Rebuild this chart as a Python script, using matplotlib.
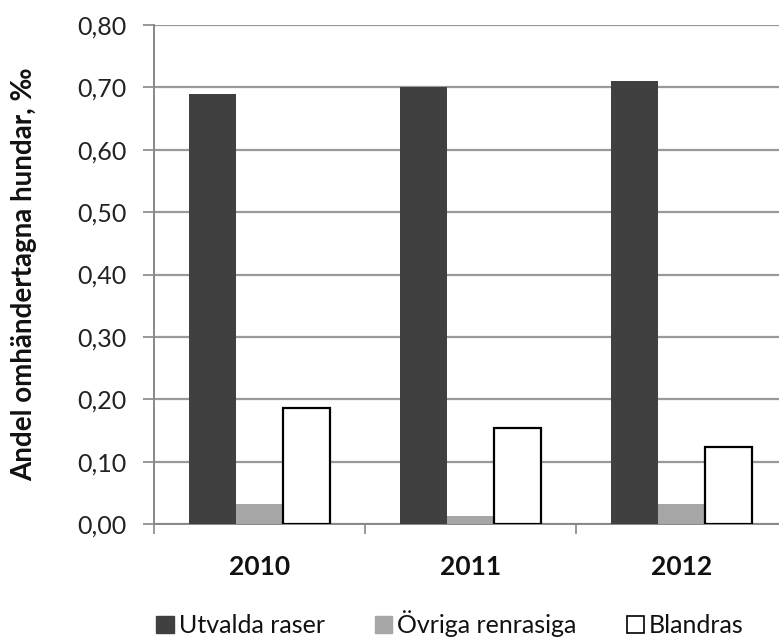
import matplotlib
matplotlib.use('Agg')
import numpy as np
from matplotlib import pyplot as plt
from matplotlib.patches import Patch

plt.rcParams['font.family'] = ['Lato', 'DejaVu Sans']

# data
years = ['2010', '2011', '2012']
utvalda = [0.69, 0.70, 0.71]
ovriga = [0.032, 0.013, 0.032]
blandras = [0.186, 0.154, 0.124]
series_names = ['Utvalda raser', 'Övriga renrasiga', 'Blandras']
yticks = [0.0, 0.1, 0.2, 0.3, 0.4, 0.5, 0.6, 0.7, 0.8]

W, H = 779, 639
fig = plt.figure(figsize=(W / 100, H / 100), dpi=100)
# plot area is cut off on the right in the reference
ax = fig.add_axes([154 / W, (H - 524) / H, 633 / W, 499 / H])

x = np.arange(len(years))
bw = 0.223
ax.bar(x - bw, utvalda, bw, color='#404040', zorder=3)
ax.bar(x, ovriga, bw, color='#a6a6a6', zorder=3)
ax.bar(x + bw, blandras, bw, color='white', edgecolor='black', linewidth=1.6, zorder=3)

ax.set_xlim(-0.5, 2.5)
ax.set_ylim(0, 0.8)
ax.set_yticks(yticks)
ax.set_yticklabels([f'{v:.2f}'.replace('.', ',') for v in yticks], fontsize=18, color='#222222')
ax.yaxis.grid(True, color='#999999', linewidth=1.6, zorder=0)

# category labels centred, ticks at the boundaries
ax.set_xticks([-0.5, 0.5, 1.5, 2.5])
ax.set_xticklabels([])
ax.set_xticks(x, minor=True)
ax.set_xticklabels(years, minor=True, fontsize=19, fontweight='bold', color='#111111')
ax.tick_params(axis='x', which='minor', length=0, pad=22)
ax.tick_params(axis='x', which='major', length=7, width=1.2, color='#888888')
ax.tick_params(axis='y', length=8, width=1.2, color='#888888', pad=12)

for s in ['top', 'right']:
    ax.spines[s].set_visible(False)
for s in ['left', 'bottom']:
    ax.spines[s].set_color('#888888')
    ax.spines[s].set_linewidth(1.4)

fig.text(24 / W, 1 - 274 / H, 'Andel omhändertagna hundar, ‰', rotation=90,
         ha='center', va='center', fontsize=20, fontweight='bold', color='#111111')

handles = [Patch(facecolor='#404040', edgecolor='#404040'),
           Patch(facecolor='#a6a6a6', edgecolor='#a6a6a6'),
           Patch(facecolor='white', edgecolor='black', linewidth=1.2)]
fig.legend(handles, series_names, ncol=3, loc='center', bbox_to_anchor=(450 / W, 1 - 624 / H),
           frameon=False, fontsize=18, handlelength=0.7, handleheight=0.7,
           handletextpad=0.2, columnspacing=2.0, labelcolor='#111111')

fig.savefig('out.png', dpi=100)
